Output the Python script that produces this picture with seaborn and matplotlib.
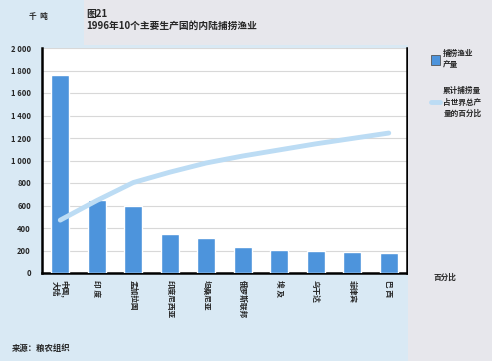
import numpy as np
import pandas as pd
import matplotlib
matplotlib.use("Agg")
import matplotlib.pyplot as plt
import matplotlib.patches as mpatches
from matplotlib.lines import Line2D
import seaborn as sns

# 数据
countries = ["中国,\n大陆", "印 度", "孟加拉国", "印度尼西亚", "坦桑尼亚",
             "俄罗斯联邦", "埃 及", "乌干达", "菲律宾", "巴 西"]
catch = [1760, 650, 598, 347, 308, 234, 204, 196, 184, 178]      # 千吨
cum_pct = [23.5, 32.2, 40.2, 44.8, 48.9, 52.0, 54.7, 57.4, 59.8, 62.2]  # 百分比

left_ticks = [0, 200, 400, 600, 800, 1000, 1200, 1400, 1600, 1800, 2000]
left_labels = ["0", "200", "400", "600", "800", "1 000", "1 200", "1 400", "1 600", "1 800", "2 000"]
right_ticks = list(range(0, 101, 10))

bar_col = "#4d94dc"
line_col = "#bcdcf4"
blue_bg = "#d9e9f4"
gray_bg = "#e7e7ec"

sns.set_style("white")
plt.rcParams['font.family'] = ['Noto Sans CJK SC', 'DejaVu Sans']

fig = plt.figure(figsize=(4.92, 3.61), dpi=100, facecolor=blue_bg)
# gray panels behind title and right side
fig.patches.append(mpatches.Rectangle((84/492, 1 - 45/361), 1, 1, transform=fig.transFigure,
                                      facecolor=gray_bg, edgecolor="none", zorder=0))
fig.patches.append(mpatches.Rectangle((408/492, 0), 1, 1, transform=fig.transFigure,
                                      facecolor=gray_bg, edgecolor="none", zorder=0))

ax = fig.add_axes([42/492, 88/361, 365/492, 225/361])
ax.set_facecolor("white")

df = pd.DataFrame({"country": countries, "catch": catch})
sns.barplot(data=df, x="country", y="catch", color=bar_col, saturation=1,
            width=0.48, ax=ax, zorder=3)
ax.set_xlim(-0.5, len(countries) - 0.5)
ax.set_ylim(0, 2000)
ax.set_yticks(left_ticks)
ax.set_yticklabels(left_labels)
ax.yaxis.grid(True, color="#d8d8d8", linewidth=0.8, zorder=0)
ax.set_axisbelow(True)
ax.set_xlabel("")
ax.set_ylabel("")
ax.tick_params(axis="y", length=0, labelsize=5.5, pad=8)
ax.tick_params(axis="x", length=0, labelsize=5.5, pad=5)
for lab in ax.get_yticklabels():
    lab.set_fontweight("bold")
ax.set_xticks(range(len(countries)))
ax.set_xticklabels(countries, rotation=270, va="top", ha="center",
                   fontweight="bold", linespacing=1.1)
for s in ["left", "bottom", "right"]:
    ax.spines[s].set_color("black")
    ax.spines[s].set_linewidth(1.8)
ax.spines["top"].set_visible(False)

ax2 = ax.twinx()
sns.lineplot(x=np.arange(len(countries)), y=cum_pct, ax=ax2, color=line_col,
             linewidth=3.5, zorder=4)
ax2.set_ylim(0, 100)
ax2.set_yticks(right_ticks)
ax2.tick_params(axis="y", length=0, labelsize=5.5, pad=8)
for lab in ax2.get_yticklabels():
    lab.set_fontweight("bold")
for s in ["left", "bottom", "top", "right"]:
    ax2.spines[s].set_visible(False)
ax2.set_xlim(-0.5, len(countries) - 0.5)

# legend
handles = [mpatches.Patch(facecolor=bar_col, edgecolor="#555555", linewidth=0.6),
           Line2D([0], [0], color=line_col, linewidth=3.5)]
leg = fig.legend(handles, ["捕捞渔业\n产量", "累计捕捞量\n占世界总产\n量的百分比"],
                 loc="upper left", bbox_to_anchor=(428/492, 1 - 46/361), frameon=False,
                 prop={"size": 5.5, "weight": "bold"}, handlelength=1.2, handleheight=1.6,
                 labelspacing=2.2, handletextpad=0.4, borderaxespad=0)
for t in leg.get_texts():
    t.set_linespacing(1.35)

# texts
fig.text(86/492, 1 - 14/361, "图21", fontsize=7, fontweight="bold", va="center")
fig.text(86/492, 1 - 26/361, "1996年10个主要生产国的内陆捕捞渔业", fontsize=7,
         fontweight="bold", va="center")
fig.text(38/492, 1 - 17/361, "千  吨", fontsize=5.5, fontweight="bold", ha="center", va="center")
fig.text(445/492, 1 - 277/361, "百分比", fontsize=5.5, fontweight="bold", ha="center", va="center")
fig.text(12/492, 1 - 348/361, "来源：粮农组织", fontsize=6, fontweight="bold", va="center")

fig.savefig("out.png", dpi=100, facecolor=fig.get_facecolor())
